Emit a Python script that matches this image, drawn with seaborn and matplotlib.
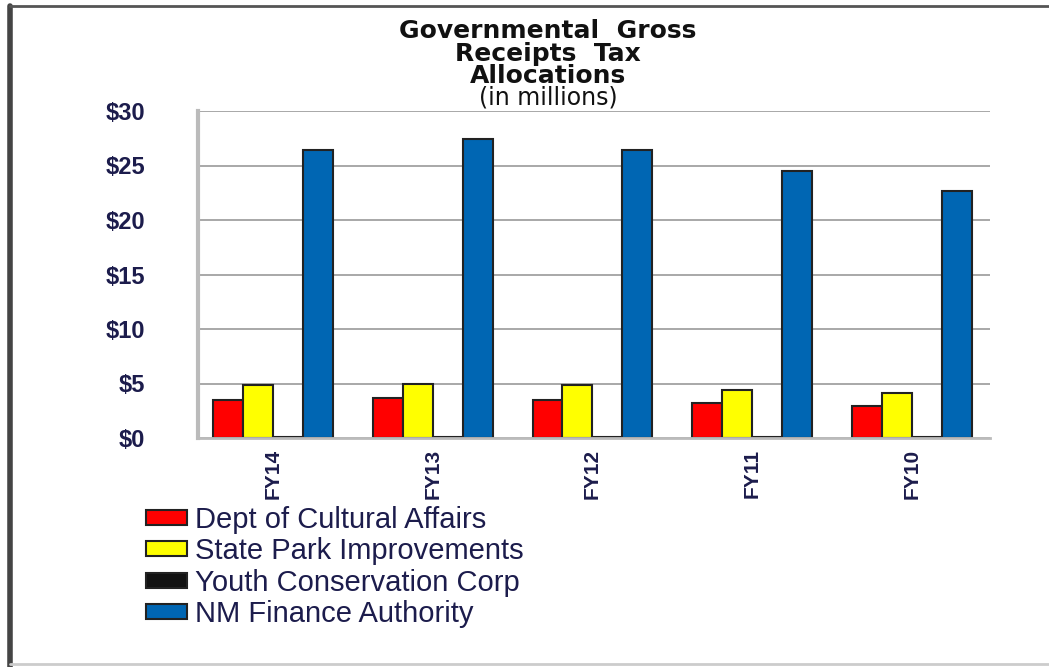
import matplotlib
matplotlib.use("Agg")
import matplotlib.pyplot as plt
import seaborn as sns
import pandas as pd
from matplotlib.lines import Line2D

# ---- data ----
years = ["FY14", "FY13", "FY12", "FY11", "FY10"]
cultural_affairs = [3.5, 3.65, 3.5, 3.2, 2.9]
state_parks = [4.85, 5.0, 4.85, 4.4, 4.1]
youth_corp = [0.1, 0.1, 0.1, 0.1, 0.1]
nm_finance = [26.4, 27.4, 26.4, 24.5, 22.7]
series_names = ["Dept of Cultural Affairs", "State Park Improvements",
                "Youth Conservation Corp", "NM Finance Authority"]
y_ticks = [0, 5, 10, 15, 20, 25, 30]
y_labels = ["$0", "$5", "$10", "$15", "$20", "$25", "$30"]
title_lines = ["Governmental  Gross", "Receipts  Tax", "Allocations"]
subtitle = "(in millions)"
colors = ["#ff0000", "#ffff00", "#111111", "#0066b3"]

rows = []
for name, vals in zip(series_names, [cultural_affairs, state_parks, youth_corp, nm_finance]):
    for y, v in zip(years, vals):
        rows.append({"Year": y, "Agency": name, "Value": v})
df = pd.DataFrame(rows)

sns.set_theme(style="white")
plt.rcParams["font.family"] = ["Liberation Sans", "DejaVu Sans"]

fig = plt.figure(figsize=(10.49, 6.67), dpi=100)
ax = fig.add_axes([198/1049, 1-438/667, (990-198)/1049, (438-111)/667])

sns.barplot(data=df, x="Year", y="Value", hue="Agency", order=years,
            hue_order=series_names, palette=colors, width=0.75, saturation=1,
            edgecolor="#222222", linewidth=1.5, ax=ax, legend=True)

ax.set_ylim(0, 30)
ax.set_xlim(-0.47, 4.49)
ax.set_yticks(y_ticks)
ax.set_yticklabels(y_labels)
ax.yaxis.grid(True, color="#999999", linewidth=1.2)
ax.set_axisbelow(True)
ax.set_xlabel("")
ax.set_ylabel("")
for s in ["top", "right"]:
    ax.spines[s].set_visible(False)
ax.spines["left"].set_color("#bbbbbb")
ax.spines["left"].set_linewidth(3)
ax.spines["bottom"].set_color("#bbbbbb")
ax.spines["bottom"].set_linewidth(2)
ax.tick_params(axis="y", length=0, pad=38, labelsize=17, labelcolor="#1c1c4c")
ax.tick_params(axis="x", length=0, pad=8, labelsize=15, labelcolor="#1c1c4c",
               labelrotation=90)
for t in ax.get_xticklabels():
    t.set_fontweight("bold")
for t in ax.get_yticklabels():
    t.set_fontweight("bold")

# legend below the plot
handles, labels = ax.get_legend_handles_labels()
ax.get_legend().remove()
leg = fig.legend(handles, labels, loc="upper left",
                 bbox_to_anchor=(134/1049, 1-494/667), frameon=False,
                 fontsize=21, handlelength=1.4, handleheight=0.4,
                 handletextpad=0.3, labelspacing=0.12, borderaxespad=0)
for t in leg.get_texts():
    t.set_color("#1c1c4c")

# titles
for i, line in enumerate(title_lines):
    fig.text(548/1049, 1-(31 + 22.5*i)/667, line, ha="center", va="center",
             fontsize=18, fontweight="bold", color="#111111",
             family=["DejaVu Sans"])
fig.text(548/1049, 1-98/667, subtitle, ha="center", va="center",
         fontsize=17, color="#111111", family=["DejaVu Sans"])

# figure frame
fig.add_artist(Line2D([10/1049, 10/1049], [0, 1-6/667], color="#444444",
                      linewidth=4, transform=fig.transFigure))
fig.add_artist(Line2D([10/1049, 1], [1-6/667, 1-6/667], color="#555555",
                      linewidth=2, transform=fig.transFigure))
fig.add_artist(Line2D([10/1049, 1], [1-664/667, 1-664/667], color="#cccccc",
                      linewidth=2, transform=fig.transFigure))

fig.savefig("out.png", dpi=100)
